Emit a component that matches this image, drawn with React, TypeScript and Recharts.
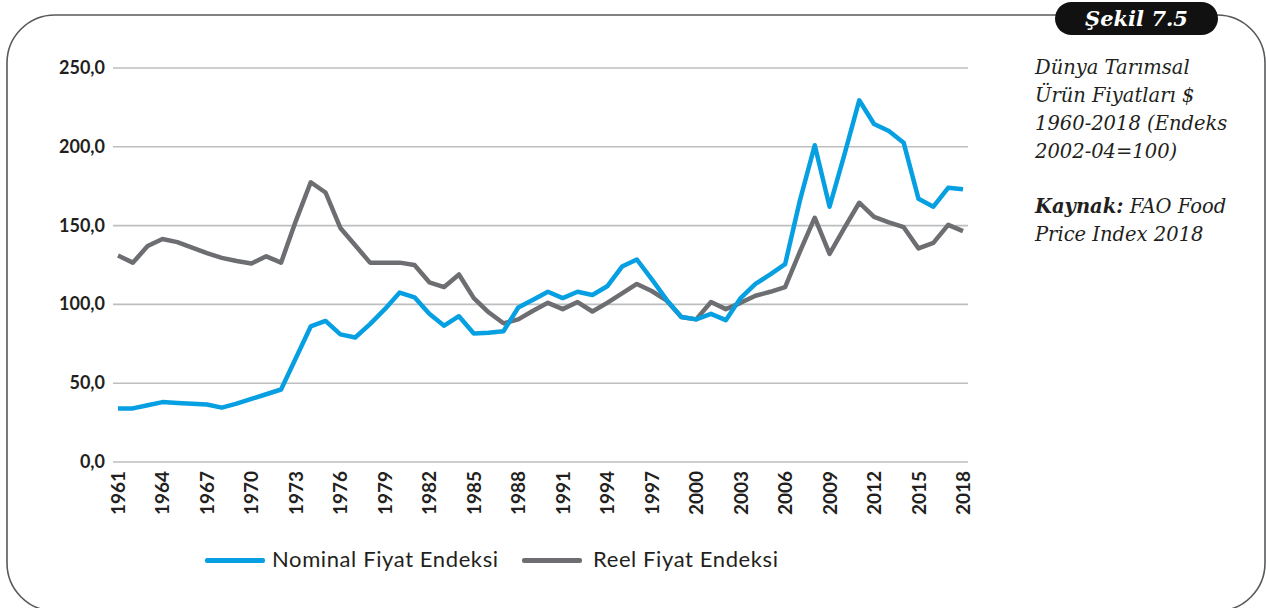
import React from 'react';
import { LineChart, Line, XAxis, YAxis, CartesianGrid, Legend } from 'recharts';

// Dünya tarımsal ürün fiyatları, FAO gıda fiyat endeksi (2002-04=100)
const years = [
  1961, 1962, 1963, 1964, 1965, 1966, 1967, 1968, 1969, 1970,
  1971, 1972, 1973, 1974, 1975, 1976, 1977, 1978, 1979, 1980,
  1981, 1982, 1983, 1984, 1985, 1986, 1987, 1988, 1989, 1990,
  1991, 1992, 1993, 1994, 1995, 1996, 1997, 1998, 1999, 2000,
  2001, 2002, 2003, 2004, 2005, 2006, 2007, 2008, 2009, 2010,
  2011, 2012, 2013, 2014, 2015, 2016, 2017, 2018,
];

const nominal = [
  34, 34, 36, 38, 37.5, 37, 36.5, 34.5, 37, 40,
  43, 46, 66, 86, 89.5, 81, 79, 87.5, 97, 107.5,
  104.5, 94, 86.5, 92.5, 81.5, 82, 83, 98, 103, 108,
  104, 108, 106, 111.5, 124, 128.5, 116, 103, 92, 90.5,
  94, 90, 104, 113, 119, 125.5, 166, 201, 162, 195,
  229.5, 214.5, 210, 202.5, 167, 162, 174, 173,
];

const real = [
  131, 126.5, 137, 141.5, 139.5, 136, 132.5, 129.5, 127.5, 126,
  130.5, 126.5, 153, 177.5, 171, 148.5, 137.5, 126.5, 126.5, 126.5,
  125, 114, 111, 119, 104, 95, 88, 90.5, 96, 101,
  97, 101.5, 95.5, 101, 107, 113, 108.5, 102.5, 92, 90.5,
  101.5, 97, 101, 105.5, 108, 111, 133.5, 155, 132, 148.5,
  164.5, 155.5, 152, 149, 135.5, 139, 150.5, 146.5,
];

const yTicks = [0, 50, 100, 150, 200, 250];

const seriesNames = ['Nominal Fiyat Endeksi', 'Reel Fiyat Endeksi'];
const noteLines = ['Dünya Tarımsal', 'Ürün Fiyatları $', '1960-2018 (Endeks', '2002-04=100)'];

const BLUE = '#06a0e2';
const GRAY = '#6d6e71';
const INK = '#231f20';
const TICK_FONT = 'Lato, "Open Sans", sans-serif';
const SERIF = '"DejaVu Serif", "Liberation Serif", serif';

const chartData = years.map((year, i) => ({
  year,
  nominal: nominal[i],
  real: real[i],
}));

const YTick = (props: any) => {
  const { x, y, payload } = props;
  const label = payload.value.toFixed(1).replace('.', ',');
  return (
    <text x={x} y={y} dy={6} textAnchor="end" fill={INK}
      style={{ fontFamily: TICK_FONT, fontWeight: 700, fontSize: 18 }}>
      {label}
    </text>
  );
};

const XTick = (props: any) => {
  const { x, payload } = props;
  return (
    <text transform={`translate(${x},471) rotate(-90)`} textAnchor="end" dy={7} fill={INK}
      style={{ fontFamily: TICK_FONT, fontWeight: 700, fontSize: 19 }}>
      {payload.value}
    </text>
  );
};

const renderLegend = () => (
  <div style={{ position: 'relative', width: 600, height: 30, fontFamily: TICK_FONT, fontSize: 22, letterSpacing: 0.6, color: INK }}>
    <div style={{ position: 'absolute', left: 0, top: 13, width: 60, height: 5, background: BLUE, borderRadius: 2 }} />
    <div style={{ position: 'absolute', left: 67, top: 0, whiteSpace: 'nowrap' }}>{seriesNames[0]}</div>
    <div style={{ position: 'absolute', left: 317, top: 13, width: 60, height: 5, background: GRAY, borderRadius: 2 }} />
    <div style={{ position: 'absolute', left: 388, top: 0, whiteSpace: 'nowrap' }}>{seriesNames[1]}</div>
  </div>
);

export default function App() {
  return (
    <div style={{ position: 'absolute', left: 0, top: 0, width: 1266, height: 608, background: '#fff', overflow: 'hidden' }}>
      {/* çerçeve */}
      <svg width={1266} height={640} style={{ position: 'absolute', left: 0, top: 0 }}>
        <rect x={7} y={15} width={1258} height={596} rx={48} ry={48} fill="none" stroke="#58595b" strokeWidth={1.6} />
      </svg>

      {/* başlık kutusu */}
      <div style={{
        position: 'absolute', left: 1055, top: 2, width: 163, height: 33, background: '#111', borderRadius: 17,
        color: '#fff', fontFamily: SERIF, fontStyle: 'italic', fontWeight: 700, fontSize: 21,
        textAlign: 'center', lineHeight: '33px',
      }}>
        Şekil 7.5
      </div>

      <div style={{
        position: 'absolute', left: 1035, top: 54, fontFamily: SERIF, fontStyle: 'italic',
        fontSize: 19.5, lineHeight: '28px', color: INK, whiteSpace: 'nowrap',
      }}>
        {noteLines.map((l) => <div key={l}>{l}</div>)}
        <div style={{ height: 27 }} />
        <div><span style={{ fontWeight: 700 }}>Kaynak:</span> FAO Food</div>
        <div>Price Index 2018</div>
      </div>

      <div style={{ position: 'absolute', left: 0, top: 0 }}>
        <LineChart width={1000} height={600} data={chartData}
          margin={{ top: 68, right: 32, bottom: 48, left: 13 }}>
          <CartesianGrid vertical={false} stroke="#bcbec0" strokeWidth={1.6} />
          <XAxis dataKey="year" interval={2} height={60} padding={{ left: 5, right: 5 }}
            axisLine={false} tickLine={false} tick={<XTick />} />
          <YAxis domain={[0, 250]} ticks={yTicks} width={100} axisLine={false} tickLine={false}
            tick={<YTick />} />
          <Legend content={renderLegend}
            wrapperStyle={{ position: 'absolute', left: 205, top: 545, width: 600, height: 30 }} />
          <Line type="linear" dataKey="real" name={seriesNames[1]} stroke={GRAY} strokeWidth={4.5}
            dot={false} isAnimationActive={false} strokeLinejoin="round" />
          <Line type="linear" dataKey="nominal" name={seriesNames[0]} stroke={BLUE} strokeWidth={4.5}
            dot={false} isAnimationActive={false} strokeLinejoin="round" />
        </LineChart>
      </div>
    </div>
  );
}
